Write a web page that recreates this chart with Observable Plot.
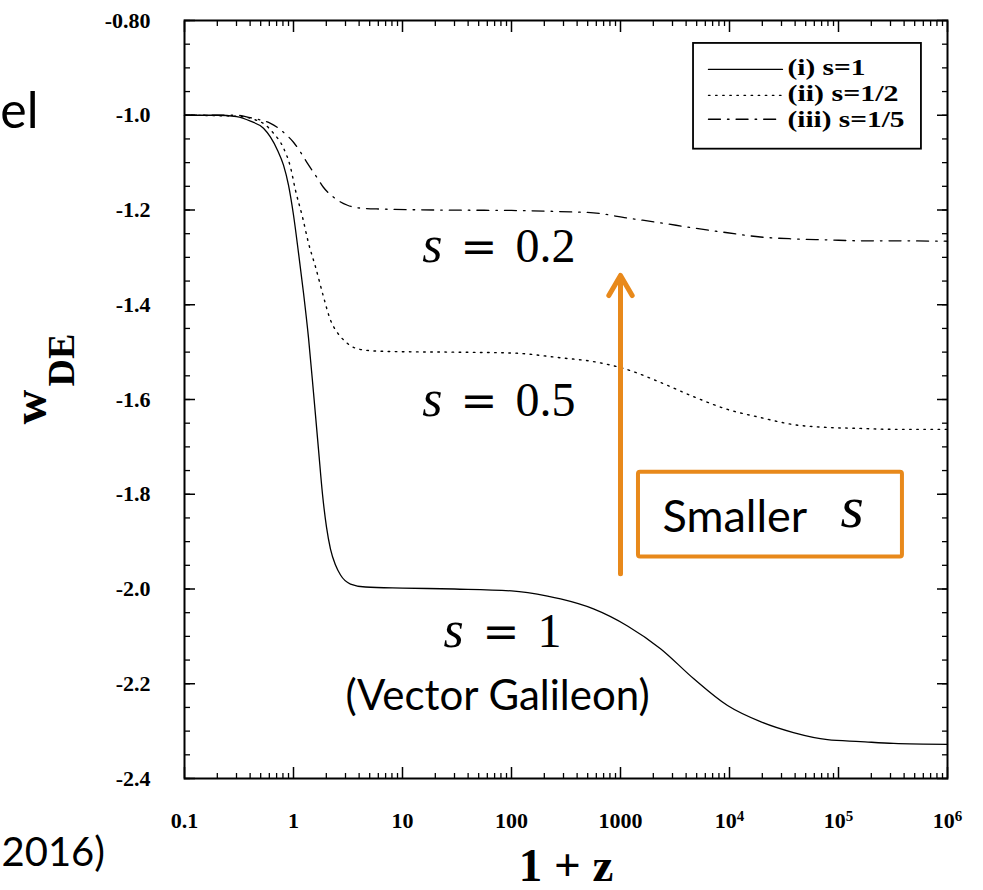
<!DOCTYPE html>
<html><head><meta charset="utf-8">
<script src="https://cdn.jsdelivr.net/npm/d3@7"></script>
<script src="https://cdn.jsdelivr.net/npm/@observablehq/plot@0.6"></script>
<style>
html,body{margin:0;padding:0;background:#fff;}
#chart{width:983px;height:890px;overflow:hidden;position:relative;}
</style></head><body><div id="chart"></div>
<script>
// ---------- data (1+z, w_DE) ----------
const s1Z = [0.1,0.2,0.3,0.4031,0.5306,0.6152,0.713,0.8097,0.8997,1.0,1.1114,1.235,1.3726,1.5256,1.6956,1.8452,2.0083,2.1846,2.4286,2.6997,3.3342,4.578,10,30,100,214,282,565,1159,2328,4677,9597,19230,38600,79200,159000,320000,1e6];
const s1W = [-1.0,-1.0,-1.003,-1.0126,-1.0274,-1.0463,-1.0737,-1.1053,-1.1474,-1.2105,-1.2905,-1.3747,-1.4695,-1.5853,-1.7053,-1.80,-1.8695,-1.9158,-1.9495,-1.9705,-1.9895,-1.9958,-1.998,-2.0,-2.004,-2.015,-2.021,-2.042,-2.078,-2.126,-2.189,-2.246,-2.28,-2.303,-2.318,-2.322,-2.326,-2.328];

const s05Z = [0.1,0.3,0.45,0.55,0.656,0.809,0.937,1.042,1.21,1.374,1.592,1.884,2.18,2.53,3.0,3.55,5.08,8.99,27.5,104,282,565,1159,2328,4677,9597,19230,38600,79200,159000,320000,1e6];
const s05W = [-1.0,-1.002,-1.01,-1.02,-1.038,-1.069,-1.109,-1.158,-1.215,-1.27,-1.32,-1.383,-1.432,-1.459,-1.478,-1.49,-1.497,-1.499,-1.5,-1.502,-1.512,-1.52,-1.537,-1.564,-1.594,-1.621,-1.638,-1.653,-1.659,-1.661,-1.663,-1.663];

const s02Z = [0.1,0.3,0.4,0.498,0.615,0.809,1.0,1.16,1.34,1.66,1.88,2.33,3.13,4.12,6.28,20,100,347,565,1159,2328,4677,9597,19230,38600,79200,159000,320000,1e6];
const s02W = [-1.0,-1.0,-1.005,-1.01,-1.017,-1.036,-1.057,-1.078,-1.101,-1.133,-1.152,-1.173,-1.19,-1.196,-1.198,-1.2,-1.201,-1.204,-1.206,-1.217,-1.227,-1.238,-1.248,-1.257,-1.261,-1.263,-1.265,-1.265,-1.266];

const seriesNames = ["(i) s=1", "(ii) s=1/2", "(iii) s=1/5"];

// ---------- ticks ----------
const yTickValues = [-0.8,-1.0,-1.2,-1.4,-1.6,-1.8,-2.0,-2.2,-2.4];
const yTickLabels = ["-0.80","-1.0","-1.2","-1.4","-1.6","-1.8","-2.0","-2.2","-2.4"];
const xTickValues = [0.1,1,10,100,1000,1e4,1e5,1e6];
const xTickLabels = ["0.1","1","10","100","1000","10^4","10^5","10^6"];

// ---------- annotation anchors (data coordinates) ----------
const mathLabelText = ["0.2","0.5","1"];
const mathLabelSX   = [15.2, 15.2, 23.8];
const mathLabelEqX  = [34.0, 34.0, 54.2];
const mathLabelValX = [109, 109, 173];
const mathLabelW    = [-1.3095, -1.6358, -2.122];

const ORANGE = "#E8891B";
const SERIF = "'Liberation Serif','Times New Roman',serif";
const SANS = "Lato,'Open Sans',sans-serif";

const toRows = (zs, ws, key) => zs.map((z, i) => ({z, w: ws[i], key}));
const d1 = toRows(s1Z, s1W, seriesNames[0]);
const d05 = toRows(s05Z, s05W, seriesNames[1]);
const d02 = toRows(s02Z, s02W, seriesNames[2]);

const yMinor = d3.range(0, 33).map(i => -2.4 + i * 0.05);
const xMinor = [];
for (const dec of [0.1,1,10,100,1000,1e4,1e5]) for (let k = 2; k <= 9; k++) xMinor.push(k * dec);

const dashes = [null, "1.6,5.5", "12,7,1.6,7"];

// legend geometry (data coords)
const legX1 = 6412, legX2 = 30620, legTextX = 34050;
const legRowsW = [-0.9032, -0.9579, -1.0084];
const legTextW = [-0.9158, -0.9705, -1.0253];
const legTextLen = [78, 111, 117];
const legendLines = seriesNames.map((n, i) => [{z: legX1, w: legRowsW[i]}, {z: legX2, w: legRowsW[i]}]);

const tickCommon = {fill: "none", label: null, stroke: "black"};

const chart = Plot.plot({
  width: 983, height: 890,
  marginLeft: 184, marginRight: 36, marginTop: 20, marginBottom: 112,
  x: {type: "log", domain: [0.1, 1e6]},
  y: {domain: [-2.4, -0.8]},
  style: {fontFamily: SERIF, background: "white", overflow: "visible", color: "black"},
  marks: [
    // inward ticks
    Plot.axisY(yTickValues, {...tickCommon, anchor: "left", tickSize: -11, strokeWidth: 1.5}),
    Plot.axisY(yTickValues, {...tickCommon, anchor: "right", tickSize: -11, strokeWidth: 1.5}),
    Plot.axisY(yMinor, {...tickCommon, anchor: "left", tickSize: -6, strokeWidth: 1.3}),
    Plot.axisY(yMinor, {...tickCommon, anchor: "right", tickSize: -6, strokeWidth: 1.3}),
    Plot.axisX(xTickValues, {...tickCommon, anchor: "bottom", tickSize: -11, strokeWidth: 1.5}),
    Plot.axisX(xTickValues, {...tickCommon, anchor: "top", tickSize: -11, strokeWidth: 1.5}),
    Plot.axisX(xMinor, {...tickCommon, anchor: "bottom", tickSize: -5, strokeWidth: 1.3}),
    Plot.axisX(xMinor, {...tickCommon, anchor: "top", tickSize: -5, strokeWidth: 1.3}),
    // tick labels
    Plot.axisY(yTickValues, {anchor: "left", tickSize: 0, tickPadding: 34, label: null,
      tickFormat: d => yTickLabels[yTickValues.indexOf(d)], fontSize: 22, fontWeight: "bold", fontFamily: SERIF, fill: "black"}),
    Plot.axisX(xTickValues, {anchor: "bottom", tickSize: 0, tickPadding: 34, label: null,
      tickFormat: d => xTickLabels[xTickValues.indexOf(d)], fontSize: 22, fontWeight: "bold", fontFamily: SERIF, fill: "black"}),
    // frame
    Plot.frame({stroke: "black", strokeWidth: 2}),
    // curves
    Plot.line(d1, {x: "z", y: "w", stroke: "black", strokeWidth: 1.3, curve: "monotone-x"}),
    Plot.line(d05, {x: "z", y: "w", stroke: "black", strokeWidth: 1.4, strokeDasharray: dashes[1], curve: "monotone-x"}),
    Plot.line(d02, {x: "z", y: "w", stroke: "black", strokeWidth: 1.3, strokeDasharray: dashes[2], curve: "monotone-x"}),
    // legend
    Plot.rect([{x1: 4677, x2: 576600, y1: -0.8484, y2: -1.0716}], {x1: "x1", x2: "x2", y1: "y1", y2: "y2", fill: "white", stroke: "black", strokeWidth: 1.8}),
    ...legendLines.map((ln, i) => Plot.line(ln, {x: "z", y: "w", stroke: "black", strokeWidth: 1.3, strokeDasharray: dashes[i] || undefined})),
    Plot.text(seriesNames.map((n, i) => ({n, z: legTextX, w: legTextW[i]})), {x: "z", y: "w", text: "n", textAnchor: "start", lineAnchor: "bottom", fontSize: 24, fontWeight: "bold", fontFamily: SERIF, fill: "black"}),
    // axis titles
    Plot.text(["1 + z"], {frameAnchor: "bottom", dy: 102, lineAnchor: "bottom", fontSize: 47, fontWeight: "bold", fontFamily: SERIF, fill: "black"}),
    Plot.text(["w"], {frameAnchor: "left", dx: -154, dy: 25, rotate: -90, fontSize: 48, fontWeight: "bold", fontFamily: SERIF, fill: "black"}),
    Plot.text(["DE"], {frameAnchor: "left", dx: -123, dy: -13, rotate: -90, fontSize: 38, fontWeight: "bold", fontFamily: SERIF, fill: "black"}),
    // math labels
    Plot.text(mathLabelW.map((w, i) => ({w, z: mathLabelSX[i]})), {x: "z", y: "w", text: () => "s", textAnchor: "start", lineAnchor: "bottom", fontSize: 52, fontStyle: "italic", fontFamily: SERIF, fill: "black"}),
    Plot.text(mathLabelW.map((w, i) => ({w, z: mathLabelEqX[i]})), {x: "z", y: "w", text: () => "=", textAnchor: "start", lineAnchor: "bottom", fontSize: 44, fontFamily: "DejaVu Serif", fill: "black"}),
    Plot.text(mathLabelW.map((w, i) => ({w, z: mathLabelValX[i], t: mathLabelText[i]})), {x: "z", y: "w", text: "t", textAnchor: "start", lineAnchor: "bottom", fontSize: 48, fontFamily: SERIF, fill: "black"}),
    // slide annotations
    Plot.text(["(Vector Galileon)"], {x: () => 74.5, y: () => -2.2547, textAnchor: "middle", lineAnchor: "bottom", fontSize: 42, fontFamily: SANS, fill: "black"}),
    Plot.arrow([{x1: 1000, y1: -1.968, x2: 1000, y2: -1.338}], {x1: "x1", y1: "y1", x2: "x2", y2: "y2", stroke: ORANGE, strokeWidth: 5, headLength: 7, headAngle: 60, strokeLinecap: "round", strokeLinejoin: "round"}),
    Plot.rect([{x1: 1462, x2: 386000, y1: -1.7537, y2: -1.9326}], {x1: "x1", x2: "x2", y1: "y1", y2: "y2", fill: "none", stroke: ORANGE, strokeWidth: 4, rx: 2}),
    Plot.text(["Smaller"], {x: () => 2427, y: () => -1.88, textAnchor: "start", lineAnchor: "bottom", fontSize: 45, fontFamily: SANS, fill: "black"}),
    Plot.text(["s"], {x: () => 104300, y: () => -1.8695, textAnchor: "start", lineAnchor: "bottom", fontSize: 60, fontStyle: "italic", fontFamily: SERIF, fill: "black"}),
    // cropped slide text at the left edge
    Plot.text(["el"], {frameAnchor: "top-left", dx: -146, dy: 107, textAnchor: "end", lineAnchor: "bottom", fontSize: 50, fontFamily: SANS, fill: "black"}),
    Plot.text(["2016)"], {frameAnchor: "top-left", dx: -183, dy: 845, textAnchor: "start", lineAnchor: "bottom", fontSize: 40, fontFamily: SANS, fill: "black"})
  ]
});

// superscripts for 10^n tick labels; stretch legend labels like the source
const ns = "http://www.w3.org/2000/svg";
chart.querySelectorAll("text").forEach(t => {
  const txt = t.textContent;
  const m = /^10\^(\d+)$/.exec(txt);
  if (m) {
    while (t.firstChild) t.removeChild(t.firstChild);
    const a = document.createElementNS(ns, "tspan"); a.textContent = "10";
    const b = document.createElementNS(ns, "tspan"); b.textContent = m[1];
    b.setAttribute("dy", "-0.5em"); b.setAttribute("font-size", "15");
    t.append(a, b);
  }
  const li = seriesNames.indexOf(txt);
  if (li >= 0) {
    t.setAttribute("textLength", legTextLen[li]);
    t.setAttribute("lengthAdjust", "spacingAndGlyphs");
  }
});
document.getElementById("chart").append(chart);
</script></body></html>
